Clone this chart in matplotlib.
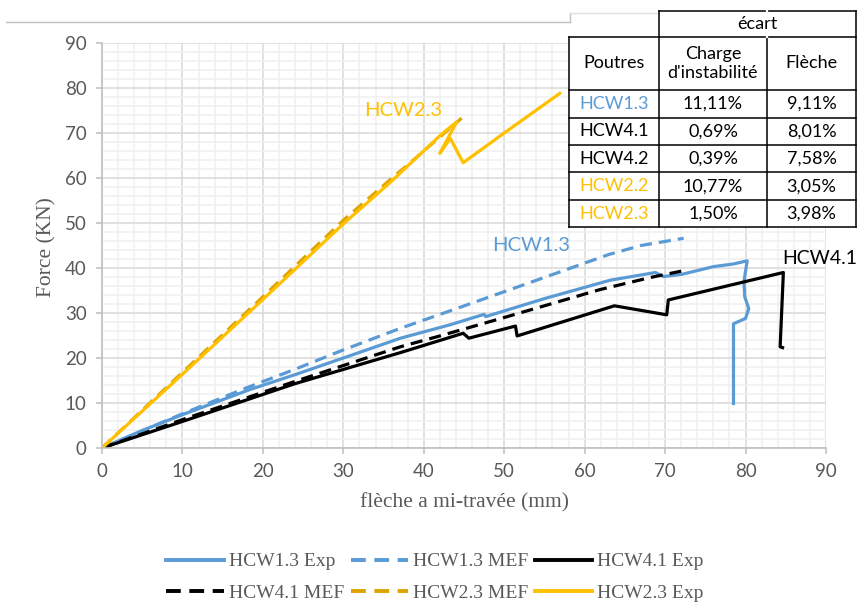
import matplotlib
matplotlib.use('Agg')
import matplotlib.pyplot as plt
from matplotlib.lines import Line2D
from matplotlib.patches import Rectangle
from matplotlib.ticker import MultipleLocator

# ---------------- data ----------------
x_hcw13_exp = [0, 5, 10, 18.4, 24, 30, 37.1, 43.3, 47.5, 47.7, 55, 63.2, 68.8, 69.8, 72.1, 76, 78.5, 80.2, 79.8, 79.9, 80.4, 80.0, 78.5, 78.5]
y_hcw13_exp = [0, 3.9, 7.4, 13.0, 16.3, 20.0, 24.4, 27.4, 29.7, 29.2, 33.2, 37.3, 39.0, 38.1, 38.6, 40.3, 40.9, 41.6, 37.0, 33.6, 31.0, 28.8, 27.6, 9.9]

x_hcw13_mef = [0, 10, 18, 24, 30, 37.1, 43.3, 52, 63, 67, 72.3]
y_hcw13_mef = [0, 7.6, 13.4, 17.5, 21.8, 26.6, 30.5, 36.0, 43.0, 45.0, 46.6]

x_hcw41_exp = [0, 10, 24, 37.1, 44.9, 45.6, 51.4, 51.6, 63.7, 70.2, 70.4, 84.7, 84.3, 84.6]
y_hcw41_exp = [0, 5.9, 14.3, 21.2, 25.5, 24.4, 27.1, 24.9, 31.6, 29.6, 32.9, 39.0, 22.5, 22.3]

x_hcw41_mef = [0, 10, 24, 37.1, 42, 50, 61.9, 68.2, 72.0]
y_hcw41_mef = [0, 6.3, 14.8, 22.5, 24.9, 29.0, 35.2, 37.9, 39.3]

x_hcw23_mef = [0, 10, 20, 30, 36.2, 39.1, 44.7]
y_hcw23_mef = [0, 16.8, 33.6, 50.6, 60.2, 64.6, 73.3]

x_hcw23_exp = [0, 10, 20, 30, 36, 42, 44.1, 42.0, 43.3, 44.9, 50, 56.9]
y_hcw23_exp = [0, 16.4, 33.0, 49.8, 59.3, 69.4, 72.5, 65.5, 68.8, 63.4, 70.0, 78.8]

x_ticks = [0, 10, 20, 30, 40, 50, 60, 70, 80, 90]
y_ticks = [0, 10, 20, 30, 40, 50, 60, 70, 80, 90]

table_group = 'écart'
table_cols = ['Poutres', "Charge\nd'instabilité", 'Flèche']
poutres = ['HCW1.3', 'HCW4.1', 'HCW4.2', 'HCW2.2', 'HCW2.3']
charge = ['11,11%', '0,69%', '0,39%', '10,77%', '1,50%']
fleche = ['9,11%', '8,01%', '7,58%', '3,05%', '3,98%']

BLUE = '#5B9BD5'
BLACK = '#000000'
GOLD = '#FFC000'
GOLD_D = '#DDA400'
poutre_colors = [BLUE, BLACK, BLACK, GOLD, GOLD]

plt.rcParams['font.family'] = ['Lato', 'DejaVu Sans']

W, H = 857, 616
fig = plt.figure(figsize=(W / 100, H / 100), dpi=100)


def fx(px):
    return px / W


def fy(py):
    return 1 - py / H


ax = fig.add_axes([fx(102), fy(448), (826 - 102) / W, (448 - 43) / H])

lw = 2.3
dash = (3.8, 2.2)
l1, = ax.plot(x_hcw13_exp, y_hcw13_exp, color=BLUE, lw=lw, label='HCW1.3 Exp', solid_joinstyle='round')
l2, = ax.plot(x_hcw13_mef, y_hcw13_mef, color=BLUE, lw=lw, ls=(0, dash), label='HCW1.3 MEF')
l3, = ax.plot(x_hcw41_exp, y_hcw41_exp, color=BLACK, lw=lw, label='HCW4.1 Exp', solid_joinstyle='round')
l4, = ax.plot(x_hcw41_mef, y_hcw41_mef, color=BLACK, lw=lw, ls=(0, dash), label='HCW4.1 MEF')
l5, = ax.plot(x_hcw23_mef, y_hcw23_mef, color=GOLD_D, lw=lw, ls=(0, dash), label='HCW2.3 MEF')
l6, = ax.plot(x_hcw23_exp, y_hcw23_exp, color=GOLD, lw=lw, label='HCW2.3 Exp', solid_joinstyle='round')

ax.set_xlim(0, 90)
ax.set_ylim(0, 90)
ax.set_xticks(x_ticks)
ax.set_yticks(y_ticks)
ax.xaxis.set_minor_locator(MultipleLocator(2))
ax.yaxis.set_minor_locator(MultipleLocator(2))
ax.set_axisbelow(True)
ax.grid(which='minor', color='#F0F0F0', lw=1.1)
ax.grid(which='major', color='#D9D9D9', lw=1.1)
for s in ['top', 'right']:
    ax.spines[s].set_visible(False)
for s in ['left', 'bottom']:
    ax.spines[s].set_color('#BFBFBF')
    ax.spines[s].set_linewidth(1.2)
ax.tick_params(which='major', length=4, width=1.1, color='#BFBFBF',
               labelcolor='#595959', labelsize=13.5, pad=7)
ax.tick_params(which='minor', length=0)

# curve labels
ax.text(32.6, 75.0, 'HCW2.3', color=GOLD, fontsize=14.5, va='center', ha='left')
ax.text(48.5, 45.1, 'HCW1.3', color=BLUE, fontsize=14.5, va='center', ha='left')
ax.text(84.5, 42.2, 'HCW4.1', color=BLACK, fontsize=14, va='center', ha='left', clip_on=False)

# axis titles
fig.text(fx(47), fy(247), 'Force (KN)', rotation=90, ha='center', va='center',
         color='#595959', fontsize=15.5, family='Liberation Serif')
fig.text(fx(465), fy(503), 'flèche a mi-travée (mm)', ha='center', va='center',
         color='#595959', fontsize=15.5, family='Liberation Serif')

# legend
handles = [l1, l4, l2, l5, l3, l6]
leg = fig.legend(handles=handles, labels=[h.get_label() for h in handles], ncol=3,
                 loc='center', bbox_to_anchor=(fx(435), fy(577.5)), frameon=False,
                 prop={'family': 'Liberation Serif', 'size': 14},
                 handlelength=2.95, handletextpad=0.25, columnspacing=0.35,
                 labelspacing=0.72)
for t in leg.get_texts():
    t.set_color('#595959')
for h in leg.legend_handles:
    h.set_linewidth(2.8)

# chart frame fragment
fig.add_artist(Line2D([fx(6), fx(570)], [fy(22), fy(22)], color='#C0C0C0', lw=1.0))
fig.add_artist(Line2D([fx(570), fx(570)], [fy(22), fy(13)], color='#C0C0C0', lw=1.0))
fig.add_artist(Line2D([fx(570), fx(857)], [fy(13), fy(13)], color='#E0E0E0', lw=1.0))

# table
cx = [569, 659, 767, 856]
ry = [37, 90, 117.5, 145, 172.5, 200, 227]
top = 10.5
fig.add_artist(Rectangle((fx(cx[0]), fy(ry[-1])), (cx[-1] - cx[0]) / W, (ry[-1] - ry[0]) / H,
                         facecolor='white', edgecolor='none', zorder=3))
fig.add_artist(Rectangle((fx(cx[1]), fy(ry[0])), (cx[-1] - cx[1]) / W, (ry[0] - top) / H,
                         facecolor='white', edgecolor='none', zorder=3))
tlw = 1.1
fig.add_artist(Line2D([fx(cx[1]), fx(cx[-1])], [fy(top), fy(top)], color='black', lw=tlw, zorder=4))
for y in ry:
    fig.add_artist(Line2D([fx(cx[0]), fx(cx[-1])], [fy(y), fy(y)], color='black', lw=tlw, zorder=4))
fig.add_artist(Line2D([fx(cx[0]), fx(cx[0])], [fy(ry[0]), fy(ry[-1])], color='black', lw=tlw, zorder=4))
for x in cx[1:]:
    fig.add_artist(Line2D([fx(x), fx(x)], [fy(top), fy(ry[-1])], color='black', lw=tlw, zorder=4))
fig.add_artist(Line2D([fx(cx[2]), fx(cx[2])], [fy(top), fy(ry[0])], color='white', lw=tlw + 0.5, zorder=4))

tfs = 13
ccx = [(cx[i] + cx[i + 1]) / 2 for i in range(3)]
fig.text(fx((cx[1] + cx[-1]) / 2), fy((top + ry[0]) / 2), table_group, ha='center', va='center',
         fontsize=tfs, zorder=5)
for i, c in enumerate(table_cols):
    fig.text(fx(ccx[i]), fy((ry[0] + ry[1]) / 2), c, ha='center', va='center', fontsize=tfs,
             linespacing=1.3, zorder=5)
for r in range(len(poutres)):
    yc = fy((ry[r + 1] + ry[r + 2]) / 2)
    fig.text(fx(ccx[0]), yc, poutres[r], color=poutre_colors[r], ha='center', va='center', fontsize=tfs, zorder=5)
    fig.text(fx(ccx[1]), yc, charge[r], ha='center', va='center', fontsize=tfs, zorder=5)
    fig.text(fx(ccx[2]), yc, fleche[r], ha='center', va='center', fontsize=tfs, zorder=5)

fig.savefig('out.png', dpi=100)
